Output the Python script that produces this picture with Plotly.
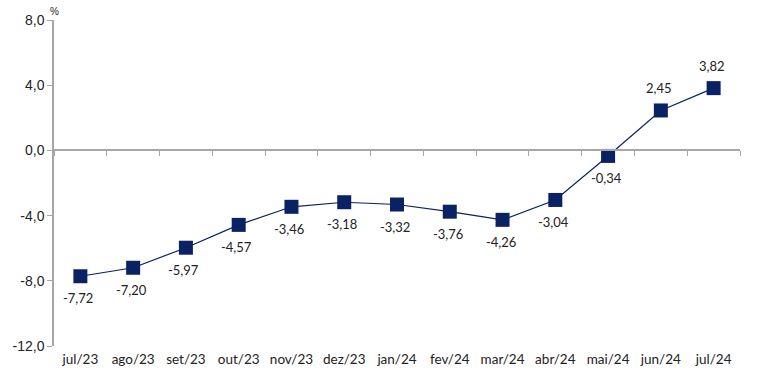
import plotly.graph_objects as go

months = ["jul/23", "ago/23", "set/23", "out/23", "nov/23", "dez/23", "jan/24",
          "fev/24", "mar/24", "abr/24", "mai/24", "jun/24", "jul/24"]
values = [-7.72, -7.20, -5.97, -4.57, -3.46, -3.18, -3.32, -3.76, -4.26, -3.04, -0.34, 2.45, 3.82]
y_ticks = [-12, -8, -4, 0, 4, 8]
y_tick_text = ["-12,0", "-8,0", "-4,0", "0,0", "4,0", "8,0"]

labels = [f"{v:.2f}".replace(".", ",") for v in values]
navy = "#0A2163"
grey = "#A6A6A6"
label_font = dict(family="Lato, Open Sans, sans-serif", size=13, color="#222222")
x_range = [-0.5, len(months) - 0.5]

fig = go.Figure()
fig.add_trace(go.Scatter(
    x=months, y=values, mode="lines+markers",
    line=dict(color=navy, width=1.2),
    marker=dict(symbol="square", size=14, color=navy),
    cliponaxis=False, showlegend=False, hoverinfo="skip",
))
# invisible trace on overlay axis to draw the zero axis line with boundary ticks
fig.add_trace(go.Scatter(x=months, y=values, xaxis="x2", mode="none",
                         showlegend=False, hoverinfo="skip"))

annotations = [dict(x=m, y=v, text=t, showarrow=False, font=label_font,
                    xshift=-2, yshift=(22 if v > 0 else -22))
               for m, v, t in zip(months, values, labels)]
annotations.append(dict(text="%", xref="paper", yref="paper", x=0, y=1,
                        xanchor="center", yanchor="bottom", yshift=1, showarrow=False,
                        font=dict(family="Liberation Sans, Arial, sans-serif", size=10, color="#222222")))

fig.update_layout(
    width=781, height=392,
    margin=dict(l=54, r=41, t=17, b=46),
    plot_bgcolor="white", paper_bgcolor="white",
    font=dict(family="Liberation Sans, Arial, sans-serif", size=13, color="#222222"),
    xaxis=dict(
        type="category", range=x_range, showline=False, showgrid=False, zeroline=False,
        ticks="outside", ticklen=1, tickcolor="rgba(0,0,0,0)",
        tickfont=dict(family="Lato, Open Sans, sans-serif", size=13.5, color="#222222"),
    ),
    xaxis2=dict(
        type="category", range=x_range, overlaying="x", anchor="free", position=0.6,
        showline=True, linecolor=grey, linewidth=1.5,
        ticks="outside", ticklen=5, tickcolor=grey, tickwidth=1.2,
        tickson="boundaries", showticklabels=False, showgrid=False, zeroline=False,
    ),
    yaxis=dict(
        range=[-12, 8], tickmode="array", tickvals=y_ticks, ticktext=y_tick_text,
        showline=True, linecolor=grey, linewidth=1.5,
        ticks="outside", ticklen=5, tickcolor=grey, tickwidth=1.2,
        showgrid=False, zeroline=False,
        tickfont=dict(size=14, color="#222222"),
    ),
    annotations=annotations,
)
fig.write_html("out.html", config={"displayModeBar": False},
               post_script="document.body.style.margin='0';")
